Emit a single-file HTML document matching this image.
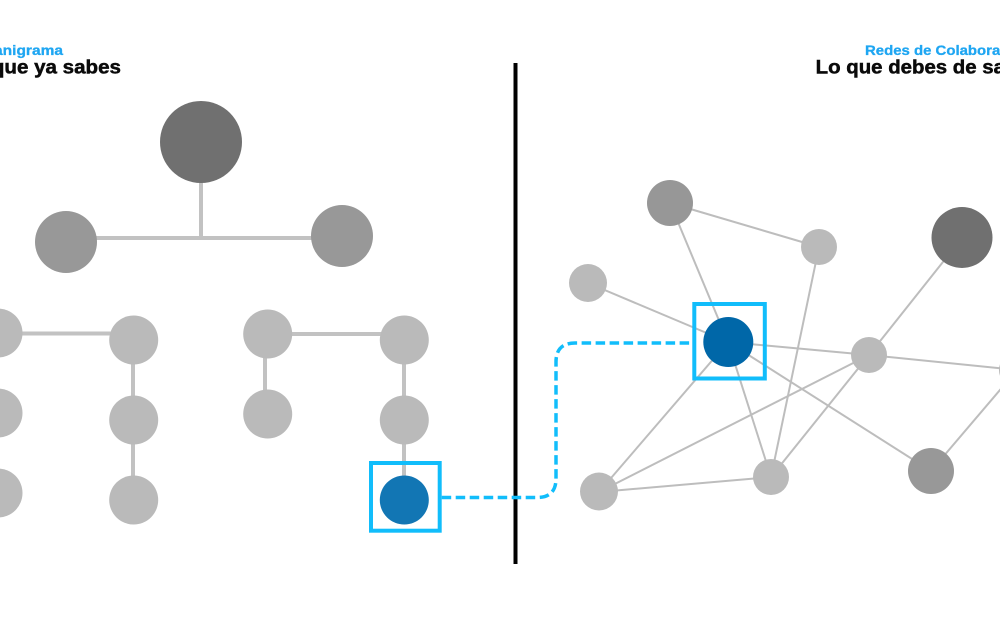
<!DOCTYPE html>
<html>
<head>
<meta charset="utf-8">
<style>
  html,body{margin:0;padding:0;background:#fff;}
  body{width:1000px;height:627px;overflow:hidden;}
  svg{display:block;}
  text{font-family:"Liberation Sans", Arial, sans-serif;font-weight:bold;}
</style>
</head>
<body>
<svg width="1000" height="627" viewBox="0 0 1000 627" xmlns="http://www.w3.org/2000/svg">
  <rect width="1000" height="627" fill="#ffffff"/>

  <!-- Titles -->
  <text x="-33.5" y="55" font-size="13.5" fill="#1fa6f2" stroke="#1fa6f2" stroke-width="0.3" textLength="96.5" lengthAdjust="spacingAndGlyphs">Organigrama</text>
  <text x="-39" y="73.5" font-size="19.5" fill="#0a0a0a" stroke="#0a0a0a" stroke-width="0.5" textLength="160" lengthAdjust="spacingAndGlyphs">Lo que ya sabes</text>

  <text x="865" y="55" font-size="13.5" fill="#1fa6f2" stroke="#1fa6f2" stroke-width="0.3" textLength="166" lengthAdjust="spacingAndGlyphs">Redes de Colaboración</text>
  <text x="815.7" y="73.5" font-size="19.5" fill="#0a0a0a" stroke="#0a0a0a" stroke-width="0.5" textLength="221" lengthAdjust="spacingAndGlyphs">Lo que debes de saber</text>

  <!-- Left tree connectors -->
  <g stroke="#c2c2c2" stroke-width="4" fill="none">
    <line x1="201" y1="180" x2="201" y2="238"/>
    <line x1="66" y1="238" x2="342" y2="238"/>
    <line x1="-2" y1="333.5" x2="133" y2="333.5"/>
    <line x1="133" y1="340" x2="133" y2="500"/>
    <line x1="267" y1="334" x2="404" y2="334"/>
    <line x1="265" y1="334" x2="265" y2="414"/>
    <line x1="404" y1="340" x2="404" y2="500"/>
  </g>

  <!-- Left tree nodes -->
  <circle cx="201" cy="142" r="41" fill="#707070"/>
  <circle cx="66" cy="242" r="31" fill="#989898"/>
  <circle cx="342" cy="236" r="31" fill="#989898"/>

  <g fill="#bababa">
    <circle cx="-2" cy="333" r="24.5"/>
    <circle cx="-2" cy="413" r="24.5"/>
    <circle cx="-2" cy="493" r="24.5"/>
    <circle cx="133.7" cy="340" r="24.5"/>
    <circle cx="133.7" cy="420" r="24.5"/>
    <circle cx="133.7" cy="500" r="24.5"/>
    <circle cx="267.7" cy="334" r="24.5"/>
    <circle cx="267.7" cy="414" r="24.5"/>
    <circle cx="404.3" cy="340" r="24.5"/>
    <circle cx="404.3" cy="420" r="24.5"/>
  </g>
  <circle cx="404.3" cy="500" r="24.5" fill="#1276b4"/>
  <rect x="371" y="463" width="68.7" height="67.7" fill="none" stroke="#11bdfb" stroke-width="4"/>

  <!-- Divider -->
  <line x1="515.5" y1="63" x2="515.5" y2="564" stroke="#000" stroke-width="4"/>

  <!-- Dashed connector -->
  <path d="M 441.7 497.5 H 537 Q 556 497.5 556 478.5 V 362 Q 556 343 575 343 H 692"
        fill="none" stroke="#11bdfb" stroke-width="3.5" stroke-dasharray="9.5 4.5"/>

  <!-- Right network edges -->
  <g stroke="#bdbdbd" stroke-width="2" fill="none">
    <line x1="670" y1="203" x2="819" y2="247"/>
    <line x1="670" y1="203" x2="728" y2="342"/>
    <line x1="819" y1="247" x2="771" y2="477"/>
    <line x1="962" y1="238" x2="869" y2="355"/>
    <line x1="588" y1="283" x2="728" y2="342"/>
    <line x1="728" y1="342" x2="869" y2="355"/>
    <line x1="869" y1="355" x2="1017" y2="370"/>
    <line x1="1017" y1="370" x2="931" y2="471"/>
    <line x1="728" y1="342" x2="599" y2="492"/>
    <line x1="728" y1="342" x2="771" y2="477"/>
    <line x1="728" y1="342" x2="931" y2="471"/>
    <line x1="869" y1="355" x2="599" y2="492"/>
    <line x1="869" y1="355" x2="771" y2="477"/>
    <line x1="599" y1="492" x2="771" y2="477"/>
  </g>

  <!-- Right network nodes -->
  <circle cx="670" cy="203" r="23" fill="#979797"/>
  <circle cx="819" cy="247" r="18" fill="#bababa"/>
  <circle cx="962" cy="237.5" r="30.5" fill="#707070"/>
  <circle cx="588" cy="283" r="19" fill="#bababa"/>
  <circle cx="869" cy="355" r="18" fill="#bababa"/>
  <circle cx="1017" cy="370" r="18" fill="#bababa"/>
  <circle cx="599" cy="491.5" r="19" fill="#bababa"/>
  <circle cx="771" cy="477" r="18" fill="#bababa"/>
  <circle cx="931" cy="471" r="23" fill="#989898"/>

  <circle cx="728.3" cy="342" r="25" fill="#0067a8"/>
  <rect x="694.3" y="304" width="70.5" height="74.5" fill="none" stroke="#11bdfb" stroke-width="4"/>
</svg>
</body>
</html>
